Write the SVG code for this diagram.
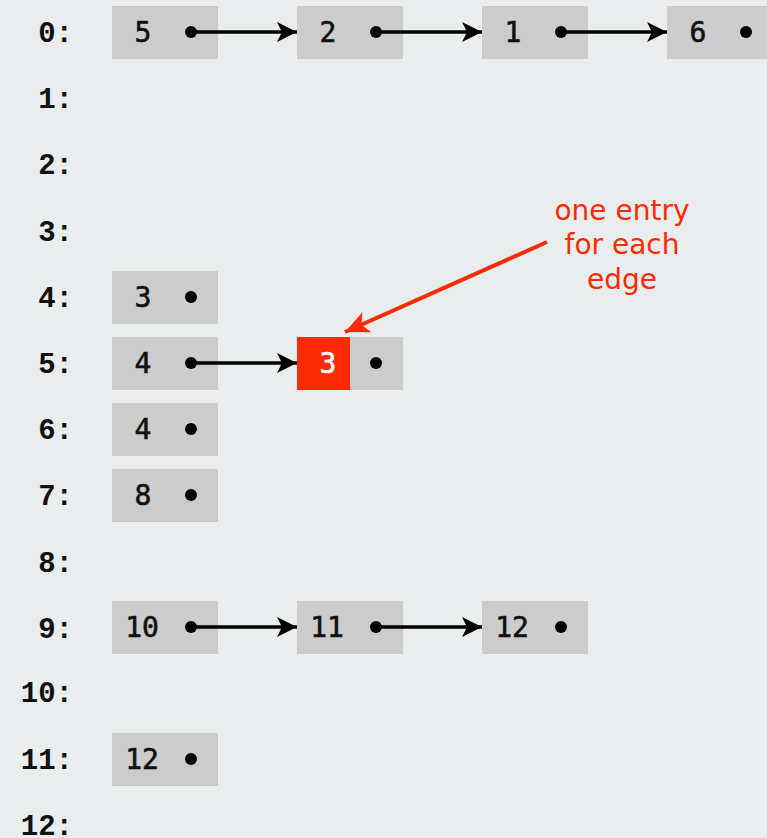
<svg xmlns="http://www.w3.org/2000/svg" width="767" height="838" viewBox="0 0 767 838">
<style>
.lbl{font-family:"Liberation Mono","Courier New",monospace;font-weight:bold;font-size:29px;fill:#111;text-anchor:end}
.box{fill:#cccccc}
.val{font-family:"DejaVu Sans Mono","Liberation Mono",monospace;font-size:28px;fill:#111;text-anchor:middle;stroke:#111;stroke-width:0.6}
.dot{fill:#000}
.edge{stroke:#000;stroke-width:3.4;fill:none}
.note{font-family:"Comic Sans MS","DejaVu Sans",sans-serif;font-size:28px;fill:#ff2a00;text-anchor:middle}
</style>
<defs>
<marker id="ah" viewBox="0 0 20 20" refX="20" refY="10" markerUnits="userSpaceOnUse" markerWidth="20" markerHeight="20" orient="auto">
<path d="M0,0 L20,10 L0,20 L5,10 Z" fill="#000"/>
</marker>
<marker id="ahr" viewBox="0 0 24 24" refX="24" refY="12" markerUnits="userSpaceOnUse" markerWidth="24" markerHeight="24" orient="auto">
<path d="M0,1 L24,12 L0,23 L6,12 Z" fill="#ff2a00"/>
</marker>
</defs>
<rect width="767" height="838" fill="#e9edee"/>
<g id="labels">
<text class="lbl" x="73" y="42">0:</text>
<text class="lbl" x="73" y="108">1:</text>
<text class="lbl" x="73" y="174">2:</text>
<text class="lbl" x="73" y="241">3:</text>
<text class="lbl" x="73" y="307">4:</text>
<text class="lbl" x="73" y="373">5:</text>
<text class="lbl" x="73" y="439">6:</text>
<text class="lbl" x="73" y="505">7:</text>
<text class="lbl" x="73" y="572">8:</text>
<text class="lbl" x="73" y="638">9:</text>
<text class="lbl" x="73" y="702">10:</text>
<text class="lbl" x="73" y="769">11:</text>
<text class="lbl" x="73" y="835">12:</text>
</g>
<g id="n0a"><rect class="box" x="112" y="6" width="106" height="53"/><text class="val" x="143" y="42">5</text><circle class="dot" cx="191" cy="32" r="6"/></g>
<g id="n0b"><rect class="box" x="297" y="6" width="106" height="53"/><text class="val" x="328" y="42">2</text><circle class="dot" cx="376" cy="32" r="6"/></g>
<g id="n0c"><rect class="box" x="482" y="6" width="106" height="53"/><text class="val" x="513" y="42">1</text><circle class="dot" cx="561" cy="32" r="6"/></g>
<g id="n0d"><rect class="box" x="667" y="6" width="106" height="53"/><text class="val" x="698" y="42">6</text><circle class="dot" cx="746" cy="32" r="6"/></g>
<g id="n4a"><rect class="box" x="112" y="271" width="106" height="53"/><text class="val" x="143" y="307">3</text><circle class="dot" cx="191" cy="297" r="6"/></g>
<g id="n5a"><rect class="box" x="112" y="337" width="106" height="53"/><text class="val" x="143" y="373">4</text><circle class="dot" cx="191" cy="363" r="6"/></g>
<g id="n5b"><rect x="297" y="337" width="53" height="53" fill="#ff2a00"/><rect class="box" x="350" y="337" width="53" height="53"/><text class="val" x="328" y="373" style="fill:#fff;stroke:#fff">3</text><circle class="dot" cx="376" cy="363" r="6"/></g>
<g id="n6a"><rect class="box" x="112" y="403" width="106" height="53"/><text class="val" x="143" y="439">4</text><circle class="dot" cx="191" cy="429" r="6"/></g>
<g id="n7a"><rect class="box" x="112" y="469" width="106" height="53"/><text class="val" x="143" y="505">8</text><circle class="dot" cx="191" cy="495" r="6"/></g>
<g id="n9a"><rect class="box" x="112" y="601" width="106" height="53"/><text class="val" x="142" y="637">10</text><circle class="dot" cx="191" cy="627" r="6"/></g>
<g id="n9b"><rect class="box" x="297" y="601" width="106" height="53"/><text class="val" x="327" y="637">11</text><circle class="dot" cx="376" cy="627" r="6"/></g>
<g id="n9c"><rect class="box" x="482" y="601" width="106" height="53"/><text class="val" x="512" y="637">12</text><circle class="dot" cx="561" cy="627" r="6"/></g>
<g id="n11a"><rect class="box" x="112" y="733" width="106" height="53"/><text class="val" x="142" y="769">12</text><circle class="dot" cx="191" cy="759" r="6"/></g>
<g id="connectors">
<line class="edge" x1="191" y1="32" x2="297" y2="32" marker-end="url(#ah)"/>
<line class="edge" x1="376" y1="32" x2="482" y2="32" marker-end="url(#ah)"/>
<line class="edge" x1="561" y1="32" x2="667" y2="32" marker-end="url(#ah)"/>
<line class="edge" x1="191" y1="363" x2="297" y2="363" marker-end="url(#ah)"/>
<line class="edge" x1="191" y1="627" x2="297" y2="627" marker-end="url(#ah)"/>
<line class="edge" x1="376" y1="627" x2="482" y2="627" marker-end="url(#ah)"/>
<line x1="547" y1="242" x2="345" y2="332" stroke="#ff2a00" stroke-width="4" marker-end="url(#ahr)"/>
</g>
<g id="note">
<text class="note" x="622" y="220">one entry</text>
<text class="note" x="622" y="254">for each</text>
<text class="note" x="622" y="289">edge</text>
</g>
</svg>
